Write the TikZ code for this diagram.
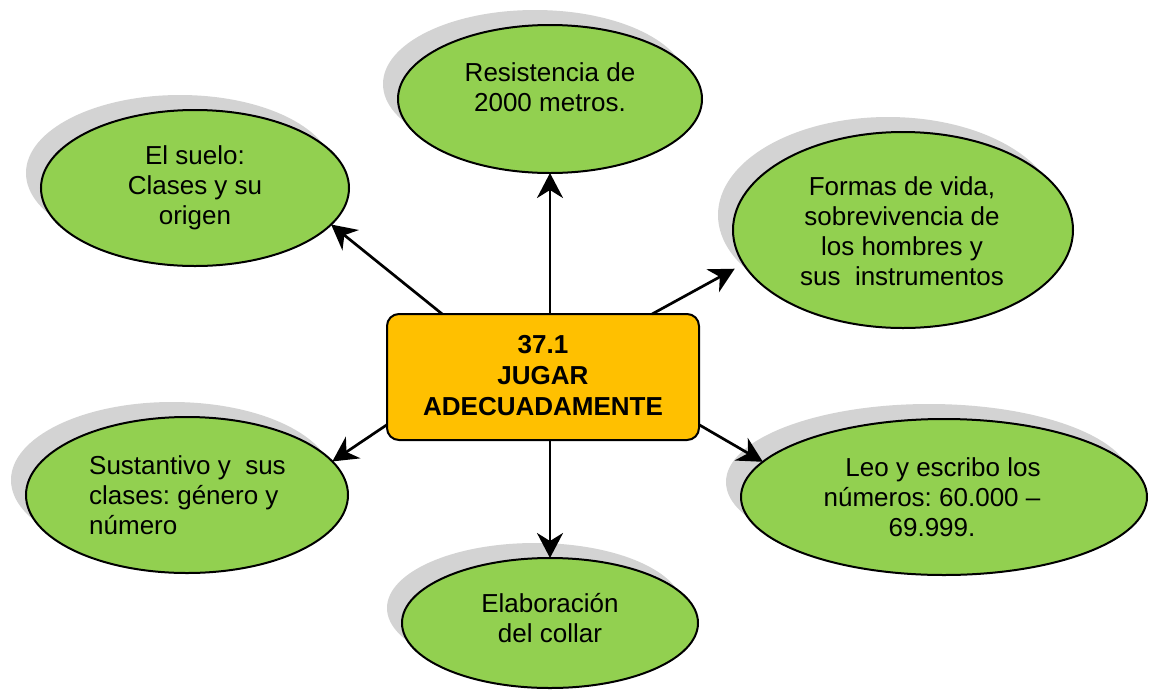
\documentclass[tikz,border=0pt]{standalone}
\usepackage{fontspec}
\setmainfont{Liberation Sans}
\usetikzlibrary{shapes.geometric,shadows,arrows.meta}
\definecolor{leaf}{HTML}{92D050}
\definecolor{amber}{HTML}{FFC000}
\definecolor{shade}{HTML}{D3D3D3}
\frenchspacing
\begin{document}
\begin{tikzpicture}[x=1pt,y=-1pt,
 bubble/.style={ellipse, draw=black, line width=2pt, fill=leaf, inner sep=0pt, outer sep=0pt,
   general shadow={shadow xshift=-15pt, shadow yshift=15pt, fill=shade}},
 core/.style={rectangle, rounded corners=12pt, draw=black, line width=2pt, fill=amber,
   minimum width=312pt, minimum height=126pt, inner sep=0pt, outer sep=0pt},
 txt/.style={font=\fontsize{26}{30}\selectfont, inner sep=0pt, align=center},
 boldtxt/.style={font=\fontsize{26}{31}\selectfont\bfseries, inner sep=0pt, align=center},
 arr/.style={line width=2.7pt, -{Stealth[length=25pt,width=26pt,inset=8pt]}}]
\useasboundingbox (0,0) rectangle (1152,689);
\clip (0,0) rectangle (1152,689);

\node[bubble, minimum width=304pt, minimum height=148pt] (e1) at (550,99) {};
\node[bubble, minimum width=308pt, minimum height=156pt] (e2) at (195,188) {};
\node[bubble, minimum width=340pt, minimum height=196pt] (e3) at (903,230) {};
\node[bubble, minimum width=322pt, minimum height=156pt] (e4) at (187,495) {};
\node[bubble, minimum width=406pt, minimum height=156pt] (e5) at (944,497) {};
\node[bubble, minimum width=296pt, minimum height=130pt] (e6) at (550,623) {};
\node[core] (c) at (543,377) {};

\node[txt] (t1) at (550,87) {Resistencia de\\2000 metros.};
\node[txt] (t2) at (195,188) {El suelo:\\Clases y su\\origen};
\node[txt] (t3) at (902,231) {Formas de vida,\\sobrevivencia de\\los hombres y\\sus\ \ instrumentos};
\node[txt, align=left, anchor=west] (t4) at (89,495) {Sustantivo y\ \ sus\\clases: g\'enero y\\n\'umero};
\node[txt] (t5) at (932,497) {\hspace*{22pt}Leo y escribo los\\n\'umeros: 60.000 --\\69.999.};
\node[txt] (t6) at (550,618) {Elaboraci\'on\\del collar};
\node[boldtxt] (tc) at (543,376) {37.1\\JUGAR\\ADECUADAMENTE};

\draw[arr] (c.north -| e1.south) -- (e1.south);
\draw[arr] (c.148) -- (e2.-15);
\draw[arr, shorten >=10pt] (c.30) -- (e3.192);
\draw[arr] (c.-163) -- (e4.13);
\draw[arr] (c.-17) -- (e5.169);
\draw[arr] (c.south -| e6.north) -- (e6.north);
\end{tikzpicture}
\end{document}
